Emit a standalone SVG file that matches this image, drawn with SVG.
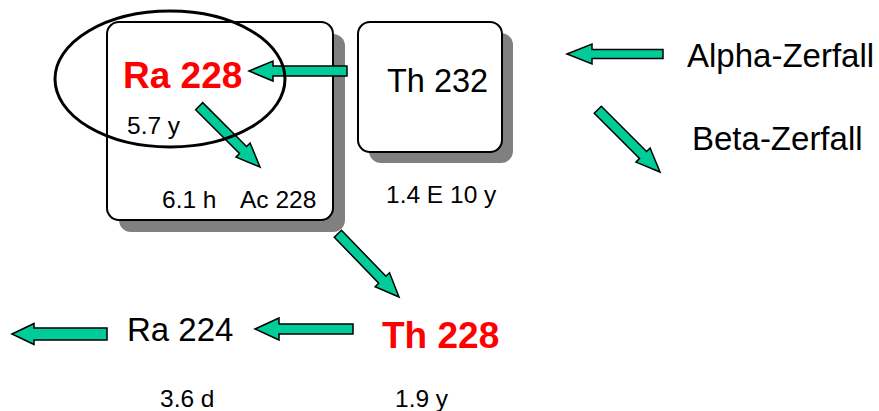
<svg xmlns="http://www.w3.org/2000/svg" width="879" height="411" viewBox="0 0 879 411">
<style>
.t{font-family:"Liberation Sans",Arial,sans-serif;fill:#000}
.s{font-size:24.5px}
.m{font-size:33px}
.r{font-size:37px;font-weight:bold;fill:#FF0000}
.box{fill:#fff;stroke:#000;stroke-width:2}
.sh{fill:#808080}
.ar{fill:#00CC99;stroke:#000;stroke-width:1.5;stroke-linejoin:miter}
</style>
<rect width="879" height="411" fill="#fff"/>
<g id="ac-box">
<rect class="sh" x="119" y="34" width="226" height="198" rx="12"/>
<rect class="box" x="107" y="22" width="226" height="198" rx="12"/>
<text class="t s" x="162" y="208">6.1 h</text>
<text class="t s" x="240" y="208">Ac 228</text>
</g>
<g id="ra228">
<text class="t r" x="123" y="88">Ra 228</text>
<text class="t s" x="127" y="134">5.7 y</text>
</g>
<g id="th232">
<rect class="sh" x="369" y="33" width="144" height="130" rx="12"/>
<rect class="box" x="358" y="22" width="144" height="130" rx="12"/>
<text class="t m" x="387" y="92" style="font-size:32.5px">Th 232</text>
<text class="t s" x="386" y="203">1.4 E 10 y</text>
</g>
<g id="th228">
<text class="t r" x="382" y="348">Th 228</text>
<text class="t s" x="395" y="407">1.9 y</text>
</g>
<g id="ra224">
<text class="t m" x="127" y="341">Ra 224</text>
<text class="t s" x="160" y="407">3.6 d</text>
</g>
<g id="legend">
<text class="t m" x="687" y="67">Alpha-Zerfall</text>
<text class="t m" x="692" y="150">Beta-Zerfall</text>
</g>
<g id="connectors">
<path class="ar" d="M0,0 L24,-10 L24,-5 L98,-5 L98,5 L24,5 L24,10 Z" transform="translate(249,71)"/>
<path class="ar" d="M0,0 L-24,-10 L-24,-5 L-86,-5 L-86,5 L-24,5 L-24,10 Z" transform="translate(260,167) rotate(45)"/>
<path class="ar" d="M0,0 L-24,-10 L-24,-5 L-88,-5 L-88,5 L-24,5 L-24,10 Z" transform="translate(399,297) rotate(46)"/>
<path class="ar" d="M0,0 L24,-11 L24,-5 L98,-5 L98,5 L24,5 L24,11 Z" transform="translate(255,329)"/>
<path class="ar" d="M0,0 L22,-10.5 L22,-6 L95,-6 L95,6 L22,6 L22,10.5 Z" transform="translate(12,334)"/>
<path class="ar" d="M0,0 L25,-10 L25,-4.5 L96,-4.5 L96,4.5 L25,4.5 L25,10 Z" transform="translate(567,54)"/>
<path class="ar" d="M0,0 L-24,-10 L-24,-5 L-88,-5 L-88,5 L-24,5 L-24,10 Z" transform="translate(660,172) rotate(45)"/>
</g>
<g id="highlight">
<ellipse cx="170" cy="79" rx="115" ry="68" fill="none" stroke="#000" stroke-width="3"/>
</g>
</svg>
